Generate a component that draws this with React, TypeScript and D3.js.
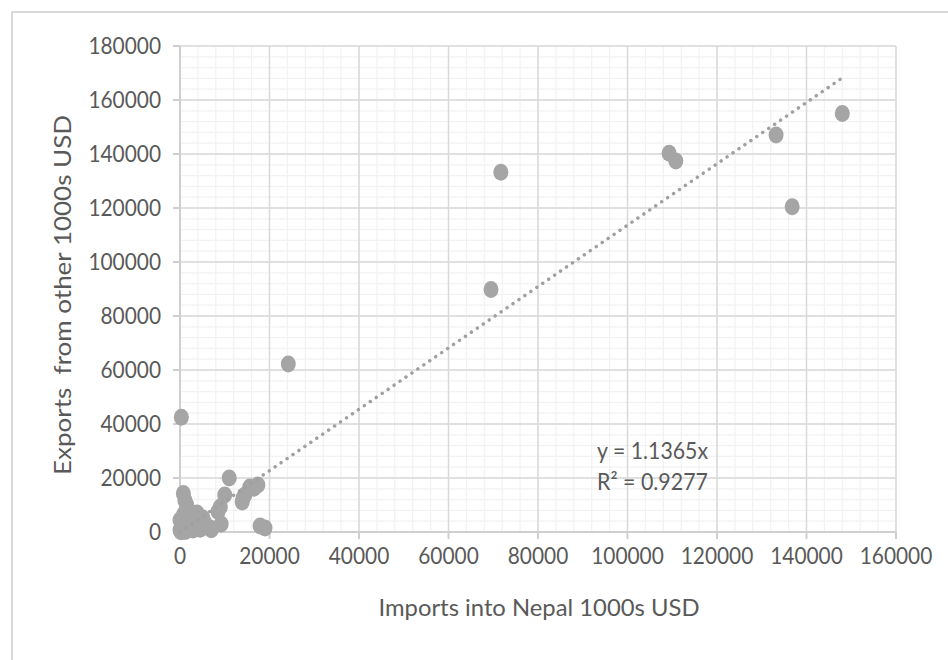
import React from 'react';
import * as d3 from 'd3';

// Data (1000s USD)
const importsX = [
  148000, 133200, 136800, 109300, 110800, 71700, 69500, 24200, 300, 11000,
  750, 10000, 9000, 9200, 14500, 14100, 15600, 17400, 13900, 17900, 19000, 6700,
  0, 2200, 3800, 5100, 0, 2900, 6000, 1500, 1100, 300, 1000, 1800, 4000, 5500,
  7000, 500, 2500, 3500, 4500, 800, 200, 1200, 16500, 8500,
];
const exportsY = [
  155000, 147000, 120500, 140300, 137400, 133200, 89800, 62200, 42500, 20000,
  14300, 13700, 9300, 3000, 13700, 12600, 16700, 17400, 11100, 2200, 1500, 1500,
  4400, 5600, 7000, 5200, 700, 700, 1900, 10000, 11800, 2000, 1000, 3000, 2500, 3500,
  800, 300, 2000, 4500, 1000, 6500, 100, 200, 16200, 7600,
];
const xTicks = [0, 20000, 40000, 60000, 80000, 100000, 120000, 140000, 160000];
const yTicks = [0, 20000, 40000, 60000, 80000, 100000, 120000, 140000, 160000, 180000];
const trendSlope = 1.1365;
const eqLine1 = 'y = 1.1365x';
const eqLine2 = 'R\u00B2 = 0.9277';
const xTitle = 'Imports into Nepal 1000s USD';
const yTitle = 'Exports  from other 1000s USD';

export default function App() {
  const W = 948;
  const H = 660;
  const x = d3.scaleLinear().domain([0, 160000]).range([180, 896]);
  const y = d3.scaleLinear().domain([0, 180000]).range([532, 46]);
  const minorX = d3.range(0, 160001, 4000);
  const minorY = d3.range(0, 180001, 4000);
  const xMin = d3.min(importsX) as number;
  const xMax = d3.max(importsX) as number;
  const trend = d3.line<number>().x((d) => x(d)).y((d) => y(d * trendSlope));
  const font = 'Lato, "Open Sans", sans-serif';
  const txt = '#595959';
  const digitW = 12.1;

  return (
    <svg
      width={W}
      height={H}
      viewBox={`0 0 ${W} ${H}`}
      style={{ position: 'absolute', left: 0, top: 0, background: '#fff' }}
    >
      <rect x={0} y={0} width={W} height={H} fill="#fff" />
      <rect x={12} y={12} width={W} height={H} fill="#fff" stroke="#d9d9d9" strokeWidth={2} />
      {/* minor gridlines */}
      {minorX.map((v) => (
        <line key={'mx' + v} x1={x(v)} x2={x(v)} y1={y(180000)} y2={y(0)} stroke="#f2f2f2" strokeWidth={1.2} />
      ))}
      {minorY.map((v) => (
        <line key={'my' + v} x1={x(0)} x2={x(160000)} y1={y(v)} y2={y(v)} stroke="#f2f2f2" strokeWidth={1.2} />
      ))}
      {/* major gridlines */}
      {xTicks.map((v) => (
        <line key={'gx' + v} x1={x(v)} x2={x(v)} y1={y(180000)} y2={y(0)} stroke="#d9d9d9" strokeWidth={1.5} />
      ))}
      {yTicks.map((v) => (
        <line key={'gy' + v} x1={x(0)} x2={x(160000)} y1={y(v)} y2={y(v)} stroke="#d9d9d9" strokeWidth={1.5} />
      ))}
      {/* axes */}
      <line x1={x(0)} x2={x(0)} y1={y(180000)} y2={y(0)} stroke="#cfcfcf" strokeWidth={2} />
      <line x1={x(0)} x2={x(160000)} y1={y(0)} y2={y(0)} stroke="#cfcfcf" strokeWidth={2} />
      {yTicks.map((v) => (
        <line key={'ty' + v} x1={x(0) - 7} x2={x(0)} y1={y(v)} y2={y(v)} stroke="#cfcfcf" strokeWidth={2} />
      ))}
      {xTicks.map((v) => (
        <line key={'tx' + v} x1={x(v)} x2={x(v)} y1={y(0)} y2={y(0) + 7} stroke="#cfcfcf" strokeWidth={2} />
      ))}
      {/* tick labels */}
      {yTicks.map((v) => {
        const s = String(v);
        return (
          <text
            key={'ly' + v}
            x={161}
            y={y(v) + 8}
            textAnchor="end"
            fontFamily={font}
            fontSize={23}
            fill={txt}
            textLength={s.length * digitW}
            lengthAdjust="spacingAndGlyphs"
          >
            {s}
          </text>
        );
      })}
      {xTicks.map((v) => {
        const s = String(v);
        return (
          <text
            key={'lx' + v}
            x={x(v)}
            y={564}
            textAnchor="middle"
            fontFamily={font}
            fontSize={23}
            fill={txt}
            textLength={s.length * digitW}
            lengthAdjust="spacingAndGlyphs"
          >
            {s}
          </text>
        );
      })}
      {/* points */}
      {importsX.map((vx, i) => (
        <ellipse key={'p' + i} cx={x(vx)} cy={y(exportsY[i])} rx={7.5} ry={8.5} fill="#a5a5a5" />
      ))}
      {/* trendline */}
      <path
        d={trend([xMin, xMax]) || ''}
        fill="none"
        stroke="#a0a0a0"
        strokeWidth={3.5}
        strokeLinecap="round"
        strokeDasharray="0.01 7.2"
      />
      {/* equation */}
      <text x={597} y={459} fontFamily={font} fontSize={23} fill={txt} textLength={111} lengthAdjust="spacingAndGlyphs">
        {eqLine1}
      </text>
      <text x={597} y={490} fontFamily={font} fontSize={23} fill={txt} textLength={111} lengthAdjust="spacingAndGlyphs">
        {eqLine2}
      </text>
      {/* axis titles */}
      <text x={539} y={616} textAnchor="middle" fontFamily={font} fontSize={24} fill={txt} textLength={321} lengthAdjust="spacingAndGlyphs">
        {xTitle}
      </text>
      <text
        transform={`translate(71, 295) rotate(-90)`}
        textAnchor="middle"
        fontFamily={font}
        fontSize={24}
        fill={txt}
        textLength={360}
        lengthAdjust="spacingAndGlyphs"
        style={{ whiteSpace: 'pre' }}
      >
        {yTitle}
      </text>
    </svg>
  );
}
